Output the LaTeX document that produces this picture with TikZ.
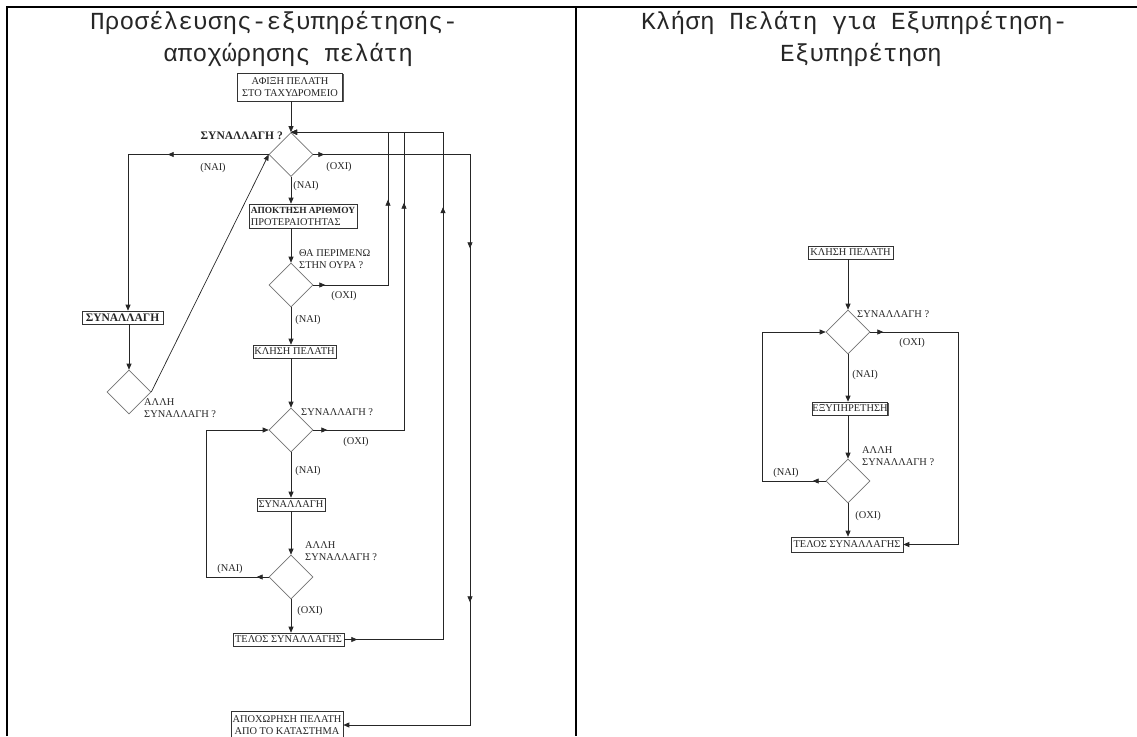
\documentclass[tikz,border=0pt]{standalone}
\usepackage{fontspec}
\setmainfont{Liberation Serif}
\newfontfamily\monofont{Liberation Mono}
\usetikzlibrary{arrows.meta,decorations.markings,shadows,shapes.geometric}
\newcommand\mytip{\arrow{Triangle[length=6pt,width=5pt]}}
\tikzset{
 conn/.style={line width=0.7pt, draw=black!85},
 arr/.style={conn, -{Triangle[length=6pt,width=5pt]}},
 box/.style={draw=black!80, line width=0.6pt, fill=white, inner sep=0pt, font=\fontsize{10.4}{12}\selectfont, text=black!85, drop shadow={shadow xshift=1.2pt,shadow yshift=-1.2pt,fill=black!65,opacity=1}, align=center},
 dia/.style={diamond, draw=black!55, line width=0.6pt, minimum width=44pt, minimum height=44pt, inner sep=0pt, aspect=1},
 lbl/.style={font=\fontsize{10.4}{12}\selectfont, text=black!85, inner sep=0pt, align=left},
 ttl/.style={font=\monofont\fontsize{24.5}{28}\selectfont, text=black!85, inner sep=0pt, anchor=base west},
}
\begin{document}
\begin{tikzpicture}[x=1pt,y=-1pt]
\useasboundingbox (0,0) rectangle (1137,736);
% frame
\draw[line width=2.2pt] (7,736) -- (7,7) -- (1137,7);
\draw[line width=2.2pt] (576,7) -- (576,736);
% titles
\node[ttl] (t1a) at (90,29.5) {Προσέλευσης-εξυπηρέτησης-};
\node[ttl] (t1b) at (163,61) {αποχώρησης πελάτη};
\node[ttl] (t2a) at (641,29.5) {Κλήση Πελάτη για Εξυπηρέτηση-};
\node[ttl] (t2b) at (780,61) {Εξυπηρέτηση};

% ---------- left flowchart ----------
\node[box, minimum width=105pt, minimum height=28pt] (b1) at (290,87) {ΑΦΙΞΗ ΠΕΛΑΤΗ\\ΣΤΟ ΤΑΧΥΔΡΟΜΕΙΟ};
\node[dia] (d1) at (291,154.5) {};
\node[box, minimum width=108pt, minimum height=24pt, align=left] (b2) at (303,216) {{\fontsize{9.4}{12}\selectfont\textbf{ΑΠΟΚΤΗΣΗ ΑΡΙΘΜΟΥ}}\\ΠΡΟΤΕΡΑΙΟΤΗΤΑΣ};
\node[dia] (d2) at (291,285) {};
\node[box, minimum width=83pt, minimum height=13pt] (b3) at (294.5,351.5) {ΚΛΗΣΗ ΠΕΛΑΤΗ};
\node[dia] (d3) at (291,430) {};
\node[box, minimum width=68pt, minimum height=13pt] (b4) at (291,504.5) {ΣΥΝΑΛΛΑΓΗ};
\node[dia] (d4) at (291,577) {};
\node[box, minimum width=111pt, minimum height=13pt] (b5) at (288.5,639.5) {ΤΕΛΟΣ ΣΥΝΑΛΛΑΓΗΣ};
\node[box, minimum width=112pt, minimum height=28pt] (b6) at (287,725) {ΑΠΟΧΩΡΗΣΗ ΠΕΛΑΤΗ\\ΑΠΟ ΤΟ ΚΑΤΑΣΤΗΜΑ};
\node[box, minimum width=81pt, minimum height=13pt, font=\fontsize{11.5}{12}\selectfont\bfseries] (b7) at (122.5,317.5) {ΣΥΝΑΛΛΑΓΗ};
\node[dia] (d5) at (129,392) {};

\coordinate (xA) at (128,0);
\coordinate (xB) at (388,0);
\coordinate (xC) at (404,0);
\coordinate (xD) at (443,0);
\coordinate (xE) at (470,0);
\coordinate (xF) at (206,0);

\draw[arr] (d1.north |- b1.south) -- (d1.north);
\draw[arr, postaction={decorate}, decoration={markings, mark=at position 11pt with {\mytip}, mark=at position 250.5pt with {\mytip}, mark=at position 604.5pt with {\mytip}}]
  (d1.east) -| (xE |- b6.east) -- (b6.east);
\draw[arr, postaction={decorate}, decoration={markings, mark=at position 101pt with {\mytip}}]
  (d1.west) -| (xA |- b7.north);
\draw[arr] (d1.south) -- (d1.south |- b2.north);
\draw[arr] (d2.north |- b2.south) -- (d2.north);
\draw[arr, postaction={decorate}, decoration={markings, mark=at position 12pt with {\mytip}, mark=at position 160pt with {\mytip}}]
  (d2.east) -| (xB |- d1.north) -- (d1.north);
\draw[arr] (d2.south) -- (d2.south |- b3.north);
\draw[arr] (d3.north |- b3.south) -- (d3.north);
\draw[arr, postaction={decorate}, decoration={markings, mark=at position 14pt with {\mytip}, mark=at position 318pt with {\mytip}}]
  (d3.east) -| (xC |- d1.north) -- (d1.north);
\draw[arr] (d3.south) -- (d3.south |- b4.north);
\draw[arr] (d4.north |- b4.south) -- (d4.north);
\draw[arr, postaction={decorate}, decoration={markings, mark=at position 12pt with {\mytip}}]
  (d4.west) -| (xF |- d3.west) -- (d3.west);
\draw[arr] (d4.south) -- (d4.south |- b5.north);
\draw[arr, postaction={decorate}, decoration={markings, mark=at position 13pt with {\mytip}, mark=at position 531pt with {\mytip}}]
  (b5.east) -| (xD |- d1.north) -- (d1.north);
\draw[arr] (d5.north |- b7.south) -- (d5.north);
\draw[arr] (d5.east) -- (d1.west);

% labels left
\node[lbl, anchor=base east, font=\fontsize{11.5}{12}\selectfont\bfseries] (l1) at (283,139) {ΣΥΝΑΛΛΑΓΗ ?};
\node[lbl] (l2) at (213,168) {(ΝΑΙ)};
\node[lbl] (l3) at (339,167) {(ΟΧΙ)};
\node[lbl] (l4) at (306,186) {(ΝΑΙ)};
\node[lbl, anchor=north west] (l5) at (299,249) {ΘΑ ΠΕΡΙΜΕΝΩ\\ΣΤΗΝ ΟΥΡΑ ?};
\node[lbl] (l6) at (344,296) {(ΟΧΙ)};
\node[lbl] (l7) at (308,320) {(ΝΑΙ)};
\node[lbl, anchor=west] (l8) at (301,412) {ΣΥΝΑΛΛΑΓΗ ?};
\node[lbl] (l9) at (356,442) {(ΟΧΙ)};
\node[lbl] (l10) at (308,471) {(ΝΑΙ)};
\node[lbl, anchor=north west] (l11) at (305,541) {ΑΛΛΗ\\ΣΥΝΑΛΛΑΓΗ ?};
\node[lbl] (l12) at (230,569) {(ΝΑΙ)};
\node[lbl] (l13) at (310,611) {(ΟΧΙ)};
\node[lbl, anchor=north west] (l14) at (144,398) {ΑΛΛΗ\\ΣΥΝΑΛΛΑΓΗ ?};

% ---------- right flowchart ----------
\node[box, minimum width=85pt, minimum height=13pt] (rb1) at (850.5,252.5) {ΚΛΗΣΗ ΠΕΛΑΤΗ};
\node[dia] (r1) at (848,332) {};
\node[box, minimum width=74pt, minimum height=13pt] (rb2) at (850,408.5) {ΕΞΥΠΗΡΕΤΗΣΗ};
\node[dia] (r2) at (848,481) {};
\node[box, minimum width=112pt, minimum height=15pt] (rb3) at (847,544.5) {ΤΕΛΟΣ ΣΥΝΑΛΛΑΓΗΣ};
\coordinate (xG) at (958,0);
\coordinate (xH) at (762,0);

\draw[arr] (r1.north |- rb1.south) -- (r1.north);
\draw[arr, postaction={decorate}, decoration={markings, mark=at position 13pt with {\mytip}}]
  (r1.east) -| (xG |- rb3.east) -- (rb3.east);
\draw[arr] (r1.south) -- (r1.south |- rb2.north);
\draw[arr] (r2.north |- rb2.south) -- (r2.north);
\draw[arr, postaction={decorate}, decoration={markings, mark=at position 13pt with {\mytip}}]
  (r2.west) -| (xH |- r1.west) -- (r1.west);
\draw[arr] (r2.south) -- (r2.south |- rb3.north);

\node[lbl, anchor=west] (m1) at (857,314) {ΣΥΝΑΛΛΑΓΗ ?};
\node[lbl] (m2) at (912,343) {(ΟΧΙ)};
\node[lbl] (m3) at (865,375) {(ΝΑΙ)};
\node[lbl, anchor=north west] (m4) at (862,446) {ΑΛΛΗ\\ΣΥΝΑΛΛΑΓΗ ?};
\node[lbl] (m5) at (786,473) {(ΝΑΙ)};
\node[lbl] (m6) at (868,516) {(ΟΧΙ)};
\end{tikzpicture}
\end{document}
